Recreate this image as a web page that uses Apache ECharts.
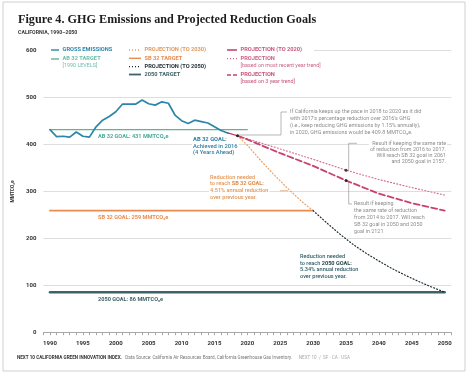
<!DOCTYPE html>
<html>
<head>
<meta charset="utf-8">
<script src="https://cdn.jsdelivr.net/npm/echarts@6/dist/echarts.min.js"></script>
<style>
  html, body { margin: 0; padding: 0; background: #fff; }
  #chart { width: 474px; height: 376px; }
</style>
</head>
<body>
<div id="chart"></div>
<script>
// gross emissions, MMTCO2e
const grossYears = [1990, 1991, 1992, 1993, 1994, 1995, 1996, 1997, 1998, 1999,
  2000, 2001, 2002, 2003, 2004, 2005, 2006, 2007, 2008, 2009,
  2010, 2011, 2012, 2013, 2014, 2015, 2016, 2017]
const gross = [431, 416, 417, 415, 426, 417, 415, 437, 451, 459,
  469, 485, 485, 485, 494, 486, 483, 490, 487, 462,
  450, 444, 451, 448, 445, 437, 429, 424]

// targets: value and last year drawn
const targetNames = ['AB 32 TARGET', 'SB 32 TARGET', '2050 TARGET']
const targetValues = [431, 259, 86]
const targetStart = 1990
const targetEnd = [2020, 2030, 2050]

// projections
const proj2020Years = [2017, 2018.5]
const proj2020 = [424, 418]
const proj2030Years = [2018.5, 2020, 2021, 2022, 2023, 2024, 2025, 2026, 2027, 2028, 2029, 2030]
const proj2030 = [418, 398, 382, 366, 351, 336, 322, 308, 295, 282, 270, 259]
const proj2050Years = [2030, 2032, 2034, 2036, 2038, 2040, 2042, 2044, 2046, 2048, 2050]
const proj2050 = [259, 234, 210, 188, 169, 152, 136, 122, 109, 97, 86]
const recentYears = [2018.5, 2025, 2030, 2035, 2040, 2045, 2050]
const recentTrend = [418, 390, 368, 345, 325, 308, 292]
const threeYears = [2018.5, 2020, 2025, 2030, 2035, 2040, 2045, 2050]
const threeTrend = [418, 410, 381, 354, 323, 295, 275, 259]

// callout dots
const dotYears = [2018.5, 2035, 2035]
const dotValues = [418, 345, 323]

const zip = (xs, ys) => xs.map((x, i) => [x, ys[i]])

const chart = echarts.init(document.getElementById('chart'))
const FONT = 'Roboto, "Liberation Sans", sans-serif'

const C = {
  gross: '#2b86a9',
  ab32: '#5ab4a1',
  sb32: '#e98b4f',
  goal50: '#3e6267',
  p2030: '#e6a066',
  p2050: '#1d2a31',
  p2020: '#bf2d57',
  recent: '#d46a8d',
  three: '#c8416f',
  gray: '#8d8d8d'
}

function lineSeries(name, data, color, width, type) {
  return {
    name: name,
    type: 'line',
    data: data,
    symbol: 'none',
    silent: true,
    lineStyle: { color: color, width: width, type: type || 'solid', cap: 'round' },
    z: 20
  }
}

const series = [
  lineSeries(targetNames[2], [[targetStart, targetValues[2]], [targetEnd[2], targetValues[2]]], C.goal50, 2.4),
  lineSeries(targetNames[1], [[targetStart, targetValues[1]], [targetEnd[1], targetValues[1]]], C.sb32, 1.8),
  lineSeries(targetNames[0], [[targetStart, targetValues[0]], [targetEnd[0], targetValues[0]]], C.ab32, 1.1),
  lineSeries('GROSS EMISSIONS', zip(grossYears, gross), C.gross, 1.7),
  lineSeries('PROJECTION (TO 2030)', zip(proj2030Years, proj2030), C.p2030, 1.2, [1, 2.2]),
  lineSeries('PROJECTION (TO 2050)', zip(proj2050Years, proj2050), C.p2050, 1.2, [1, 2.2]),
  lineSeries('PROJECTION recent', zip(recentYears, recentTrend), C.recent, 1.1, [1, 2.2]),
  lineSeries('PROJECTION 3 year', zip(threeYears, threeTrend), C.three, 1.8, [6, 3]),
  lineSeries('PROJECTION (TO 2020)', zip(proj2020Years, proj2020), C.p2020, 1.2),
  {
    type: 'scatter',
    data: zip(dotYears, dotValues),
    symbolSize: 3,
    itemStyle: { color: '#111' },
    silent: true,
    z: 22
  }
]

// legend drawn as graphic rows
function legendItem(x, y, color, dash, label, sub, textColor, iconW, width) {
  const els = [{
    type: 'line',
    shape: { x1: x, y1: y, x2: x + iconW, y2: y },
    style: { stroke: color, lineWidth: width || 1.4, lineDash: dash || null }
  }, {
    type: 'text',
    x: x + iconW + 3.5, y: y,
    style: { text: label, fill: textColor || color, font: 'bold 5.7px ' + FONT, verticalAlign: 'middle' }
  }]
  if (sub) {
    els.push({
      type: 'text',
      x: x + iconW + 3.5, y: sub[1],
      style: { text: sub[0], fill: textColor || color, font: '5.4px ' + FONT, verticalAlign: 'middle' }
    })
  }
  return els
}

function note(x, y, lines, color, opts) {
  opts = opts || {}
  return {
    type: 'text',
    x: x, y: y,
    style: {
      text: lines.join('\n'),
      fill: color,
      font: (opts.weight || 'normal') + ' ' + (opts.size || 5.4) + 'px ' + FONT,
      lineHeight: opts.lh || 6.6,
      align: opts.align || 'left',
      verticalAlign: 'top',
      rich: opts.rich,
      backgroundColor: opts.bg ? '#fff' : null,
      padding: opts.bg ? [0, 1, 0, 1] : 0
    }
  }
}

function conn(points, color) {
  return {
    type: 'polyline',
    shape: { points: points },
    style: { stroke: color || '#999', lineWidth: 0.7, fill: null }
  }
}

const graphics = [].concat(
  // frame
  [{ type: 'rect', shape: { x: 3, y: 2, width: 462, height: 369 }, style: { fill: null, stroke: '#cfcfcf', lineWidth: 1 } }],
  // titles
  [{ type: 'text', x: 18, y: 20, style: { text: 'Figure 4. GHG Emissions and Projected Reduction Goals', fill: '#1d1d1d', font: 'bold 12.2px "Liberation Serif", serif', verticalAlign: 'middle' } },
   { type: 'text', x: 18, y: 33, style: { text: 'CALIFORNIA, 1990–2050', fill: '#3a3a3a', font: 'bold 5.2px ' + FONT, verticalAlign: 'middle' } }],
  // white panel behind the legend
  [{ type: 'rect', shape: { x: 42, y: 44, width: 272, height: 44 }, style: { fill: '#fff' } }],
  legendItem(51, 50, C.gross, null, 'GROSS EMISSIONS', null, C.gross, 8),
  legendItem(51, 59, C.ab32, null, 'AB 32 TARGET', ['[1990 LEVELS]', 66], '#6bbdab', 8),
  legendItem(129, 50, C.p2030, [1, 2], 'PROJECTION (TO 2030)', null, '#e4995b', 12, 1.3),
  legendItem(129, 58.3, C.sb32, null, 'SB 32 TARGET', null, C.sb32, 12),
  legendItem(129, 66.7, C.p2050, [1, 2], 'PROJECTION (TO 2050)', null, C.p2050, 12, 1.3),
  legendItem(129, 74.5, C.goal50, null, '2050 TARGET', null, C.goal50, 12, 1.8),
  legendItem(227, 50, C.p2020, null, 'PROJECTION (TO 2020)', null, '#c8587c', 10),
  legendItem(227, 58.7, C.recent, [1, 2], 'PROJECTION', ['[based on most recent year trend]', 65.5], '#cc5f83', 10, 1.3),
  legendItem(227, 75, C.three, [4, 2], 'PROJECTION', ['[based on 3 year trend]', 82], '#c8527a', 10, 1.5),
  // goal labels
  [note(98, 133.2, ['AB 32 GOAL: 431 MMTCO₂e'], '#4aa997', { weight: 'bold', size: 5.6 }),
   note(98, 214.3, ['SB 32 GOAL: 259 MMTCO₂e'], '#e98b4f', { weight: 'bold', size: 5.6 }),
   note(98, 296, ['2050 GOAL: 86 MMTCO₂e'], '#3e6267', { weight: 'bold', size: 5.6 })],
  // AB 32 achieved
  [note(192, 136.5, ['{b|AB 32 GOAL:}', 'Achieved in 2016', '(4 Years Ahead)'], '#2e7fa1', {
    size: 5.8, weight: '500', lh: 6.5, bg: true,
    rich: { b: { fontWeight: 'bold', fontSize: 5.8, fontFamily: FONT, fill: '#2e7fa1', lineHeight: 6.5 } }
  })],
  // box note to 2020
  [conn([[236.7, 135], [281, 135], [281, 112], [287, 112]]),
   note(289, 108.8, ["If California keeps up the pace in 2018 to 2020 as it did",
     "with 2017's percentage reduction over 2016's GHG",
     '(i.e., keep reducing GHG emissions by 1.15% annually),',
     'in 2020, GHG emissions would be 409.8 MMTCO₂e.'], C.gray, { lh: 6.7, bg: true })],
  // recent trend note
  [conn([[357, 143.3], [348.7, 143.3], [348.7, 170.7]]),
   note(447, 140.2, ['Result if keeping the same rate',
     'of reduction from 2016 to 2017.',
     'Will reach SB 32 goal in 2061',
     'and 2050 goal in 2157.'], C.gray, { lh: 6.2, align: 'right', bg: true })],
  // 3 year trend note
  [conn([[348.7, 181.3], [348.7, 204], [352, 204]]),
   note(353, 200.7, ['Result if keeping',
     'the same rate of reduction',
     'from 2014 to 2017. Will reach',
     'SB 32 goal in 2050 and 2050',
     'goal in 2121'], C.gray, { lh: 6.8, bg: true })],
  // SB 32 reduction note
  [conn([[280, 190.7], [288, 190.7]], C.p2030),
   note(209, 173.8, ['Reduction needed', 'to reach {b|SB 32 GOAL:}', '4.51% annual reduction', 'over previous year.'], '#e49556', {
     size: 5.6, weight: '500', lh: 6.8, bg: true,
     rich: { b: { fontWeight: 'bold', fontSize: 5.6, fontFamily: FONT, fill: '#e08a46', lineHeight: 6.8 } }
   })],
  // 2050 reduction note
  [note(299, 253.5, ['Reduction needed', 'to reach {b|2050 GOAL:}', '5.34% annual reduction', 'over previous year.'], '#2f5e68', {
    size: 5.6, weight: '500', lh: 6.5, bg: true,
    rich: { b: { fontWeight: 'bold', fontSize: 5.6, fontFamily: FONT, fill: '#1f3f47', lineHeight: 6.5 } }
  })],
  // footer
  [{ type: 'text', x: 17, y: 358, style: {
      text: '{b|NEXT 10 CALIFORNIA GREEN INNOVATION INDEX.} {n|Data Source: California Air Resources Board, California Greenhouse Gas Inventory.}  {l|NEXT 10  /  SF · CA · USA}',
      verticalAlign: 'middle',
      rich: {
        b: { fontWeight: 'bold', fontSize: 4.6, fontFamily: FONT, fill: '#333' },
        n: { fontSize: 4.6, fontFamily: FONT, fill: '#777' },
        l: { fontSize: 4.6, fontFamily: FONT, fill: '#aaa' }
      }
    } }]
)

// keep annotations above the grid lines but under the data lines
graphics.forEach(g => { g.z = 10 })

const option = {
  animation: false,
  grid: { left: 43.4, right: 22.7, top: 50, bottom: 43.3, containLabel: false },
  xAxis: {
    type: 'value',
    min: 1989,
    max: 2051,
    interval: 1,
    axisLine: { lineStyle: { color: '#a8a8a8', width: 1 } },
    axisTick: { show: true, length: 2.5, lineStyle: { color: '#a8a8a8' } },
    splitLine: { show: false },
    axisLabel: {
      color: '#333', fontSize: 6, fontWeight: 'bold', fontFamily: FONT, margin: 8,
      formatter: v => (v % 5 === 0 ? String(v) : '')
    }
  },
  yAxis: {
    type: 'value',
    min: 0,
    max: 600,
    interval: 100,
    name: 'MMTCO₂e',
    nameLocation: 'middle',
    nameRotate: 90,
    nameGap: 17,
    nameTextStyle: { color: '#333', fontSize: 4.8, fontWeight: 'bold', fontFamily: FONT },
    axisLine: { show: false },
    axisTick: { show: false },
    splitLine: { lineStyle: { color: '#dedede', width: 1 } },
    axisLabel: { color: '#333', fontSize: 6, fontWeight: 'bold', fontFamily: FONT, margin: 7 }
  },
  series: series,
  graphic: { z: 10, elements: graphics }
}

chart.setOption(option)
</script>
</body>
</html>
